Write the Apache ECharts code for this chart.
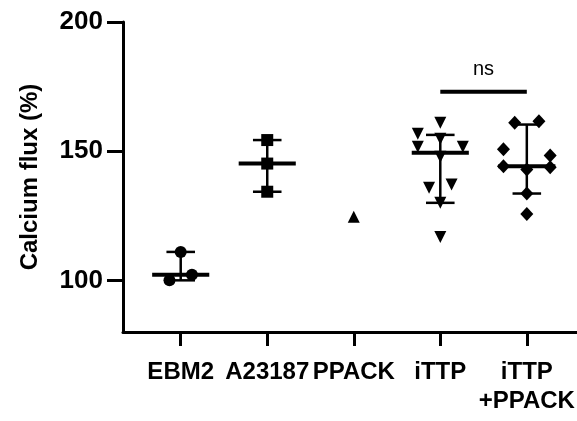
<!DOCTYPE html>
<html>
<head>
<meta charset="utf-8">
<script src="https://cdn.jsdelivr.net/npm/echarts@6/dist/echarts.min.js"></script>
<style>
  html, body { margin: 0; padding: 0; background: #fff; }
  #chart { width: 577px; height: 421px; }
</style>
</head>
<body>
<div id="chart"></div>
<script>
// 分组
const categories = ['EBM2', 'A23187', 'PPACK', 'iTTP', 'iTTP\n+PPACK']
const yTicks = [100, 150, 200]

// 各组数值（点），jitter 为组内左右错开
const ebm2 = [111.0, 100.0, 102.2]
const ebm2Jitter = [0, -0.13, 0.13]
const a23187 = [154.3, 145.2, 134.3]
const a23187Jitter = [0, 0, 0]
const ppack = [124.6]
const ppackJitter = [0]
const ittp = [161.0, 156.7, 154.8, 151.7, 151.7, 147.8, 135.8, 137.1, 130.0, 116.8]
const ittpJitter = [0, -0.26, 0, -0.26, 0.26, 0, -0.13, 0.13, 0, 0]
const ittpPpack = [161.0, 161.6, 150.7, 148.3, 144.2, 142.9, 143.8, 133.6, 125.7]
const ittpPpackJitter = [-0.14, 0.14, -0.27, 0.27, -0.27, 0, 0.27, 0, 0]

// 中位数与误差线（null = 不画）
const medians = [102.2, 145.2, null, 149.4, 144.2]
const lower = [100.0, 134.3, null, 130.0, 133.6]
const upper = [111.0, 154.3, null, 156.3, 160.3]

// 显著性标注: [组1, 组2, y, 文本]
const sigPairs = [[3, 4, 173, 'ns']]

const font = 'Liberation Sans'

let toPoints = (idx, vals, jit) => vals.map((v, i) => [idx + jit[i], v])

let barData = medians
  .map((m, i) => (m === null ? null : [i, m, lower[i], upper[i]]))
  .filter((d) => d !== null)

let scatter = (idx, vals, jit, symbol, size, rotate) => ({
  type: 'scatter',
  data: toPoints(idx, vals, jit),
  symbol: symbol,
  symbolSize: size,
  symbolRotate: rotate || 0,
  itemStyle: { color: '#000', opacity: 1 },
  z: 3,
  silent: true,
})

let chart = echarts.init(document.getElementById('chart'), null, { renderer: 'canvas' })

chart.setOption({
  animation: false,
  backgroundColor: '#fff',
  grid: { left: 123, right: 0, top: 22, bottom: 89, outerBoundsMode: 'none', containLabel: false },
  xAxis: {
    type: 'value',
    min: -0.667,
    max: 4.58,
    axisLine: { show: true, onZero: false, lineStyle: { color: '#000', width: 3 } },
    axisTick: { show: true, customValues: [0, 1, 2, 3, 4], length: 14, lineStyle: { color: '#000', width: 3 } },
    axisLabel: {
      customValues: [0, 1, 2, 3, 4],
      formatter: (v) => categories[Math.round(v)],
      margin: 26,
      color: '#000',
      fontFamily: font,
      fontWeight: 'bold',
      fontSize: 24,
      lineHeight: 29,
      align: 'center',
    },
    splitLine: { show: false },
  },
  yAxis: {
    type: 'value',
    min: 80,
    max: 200,
    name: 'Calcium flux (%)',
    nameLocation: 'middle',
    nameGap: 81,
    nameTextStyle: { color: '#000', fontFamily: font, fontWeight: 'bold', fontSize: 24 },
    axisLine: { show: true, onZero: false, lineStyle: { color: '#000', width: 3 } },
    axisTick: { show: true, customValues: yTicks, length: 16, lineStyle: { color: '#000', width: 3 } },
    axisLabel: {
      customValues: yTicks,
      margin: 20,
      color: '#000',
      fontFamily: font,
      fontWeight: 'bold',
      fontSize: 26,
    },
    splitLine: { show: false },
  },
  series: [
    // 中位数 + 误差线
    {
      type: 'custom',
      data: barData,
      z: 2,
      silent: true,
      renderItem: (params, api) => {
        let x = api.value(0),
          med = api.value(1),
          lo = api.value(2),
          hi = api.value(3),
          st = { stroke: '#000', lineWidth: 2.5 },
          line = (a, b, w) => ({
            type: 'line',
            shape: { x1: a[0], y1: a[1], x2: b[0], y2: b[1] },
            style: Object.assign({}, st, w ? { lineWidth: w } : {}),
          })
        return {
          type: 'group',
          children: [
            line(api.coord([x, lo]), api.coord([x, hi])),
            line(api.coord([x - 0.165, hi]), api.coord([x + 0.165, hi])),
            line(api.coord([x - 0.165, lo]), api.coord([x + 0.165, lo])),
            line(api.coord([x - 0.33, med]), api.coord([x + 0.33, med]), 4),
          ],
        }
      },
    },
    scatter(0, ebm2, ebm2Jitter, 'circle', 12),
    scatter(1, a23187, a23187Jitter, 'rect', 12),
    scatter(2, ppack, ppackJitter, 'triangle', 12),
    scatter(3, ittp, ittpJitter, 'triangle', 12, 180),
    scatter(4, ittpPpack, ittpPpackJitter, 'diamond', [13, 14]),
    // ns 标注
    {
      type: 'custom',
      data: sigPairs,
      z: 2,
      silent: true,
      renderItem: (params, api) => {
        let a = api.coord([api.value(0), api.value(2)]),
          b = api.coord([api.value(1), api.value(2)])
        return {
          type: 'group',
          children: [
            {
              type: 'line',
              shape: { x1: a[0], y1: a[1], x2: b[0], y2: b[1] },
              style: { stroke: '#000', lineWidth: 4 },
            },
            {
              type: 'text',
              style: {
                text: sigPairs[params.dataIndex][3],
                x: (a[0] + b[0]) / 2,
                y: a[1] - 12,
                align: 'center',
                verticalAlign: 'bottom',
                fill: '#000',
                font: '20px ' + font,
              },
            },
          ],
        }
      },
    },
  ],
})
</script>
</body>
</html>
